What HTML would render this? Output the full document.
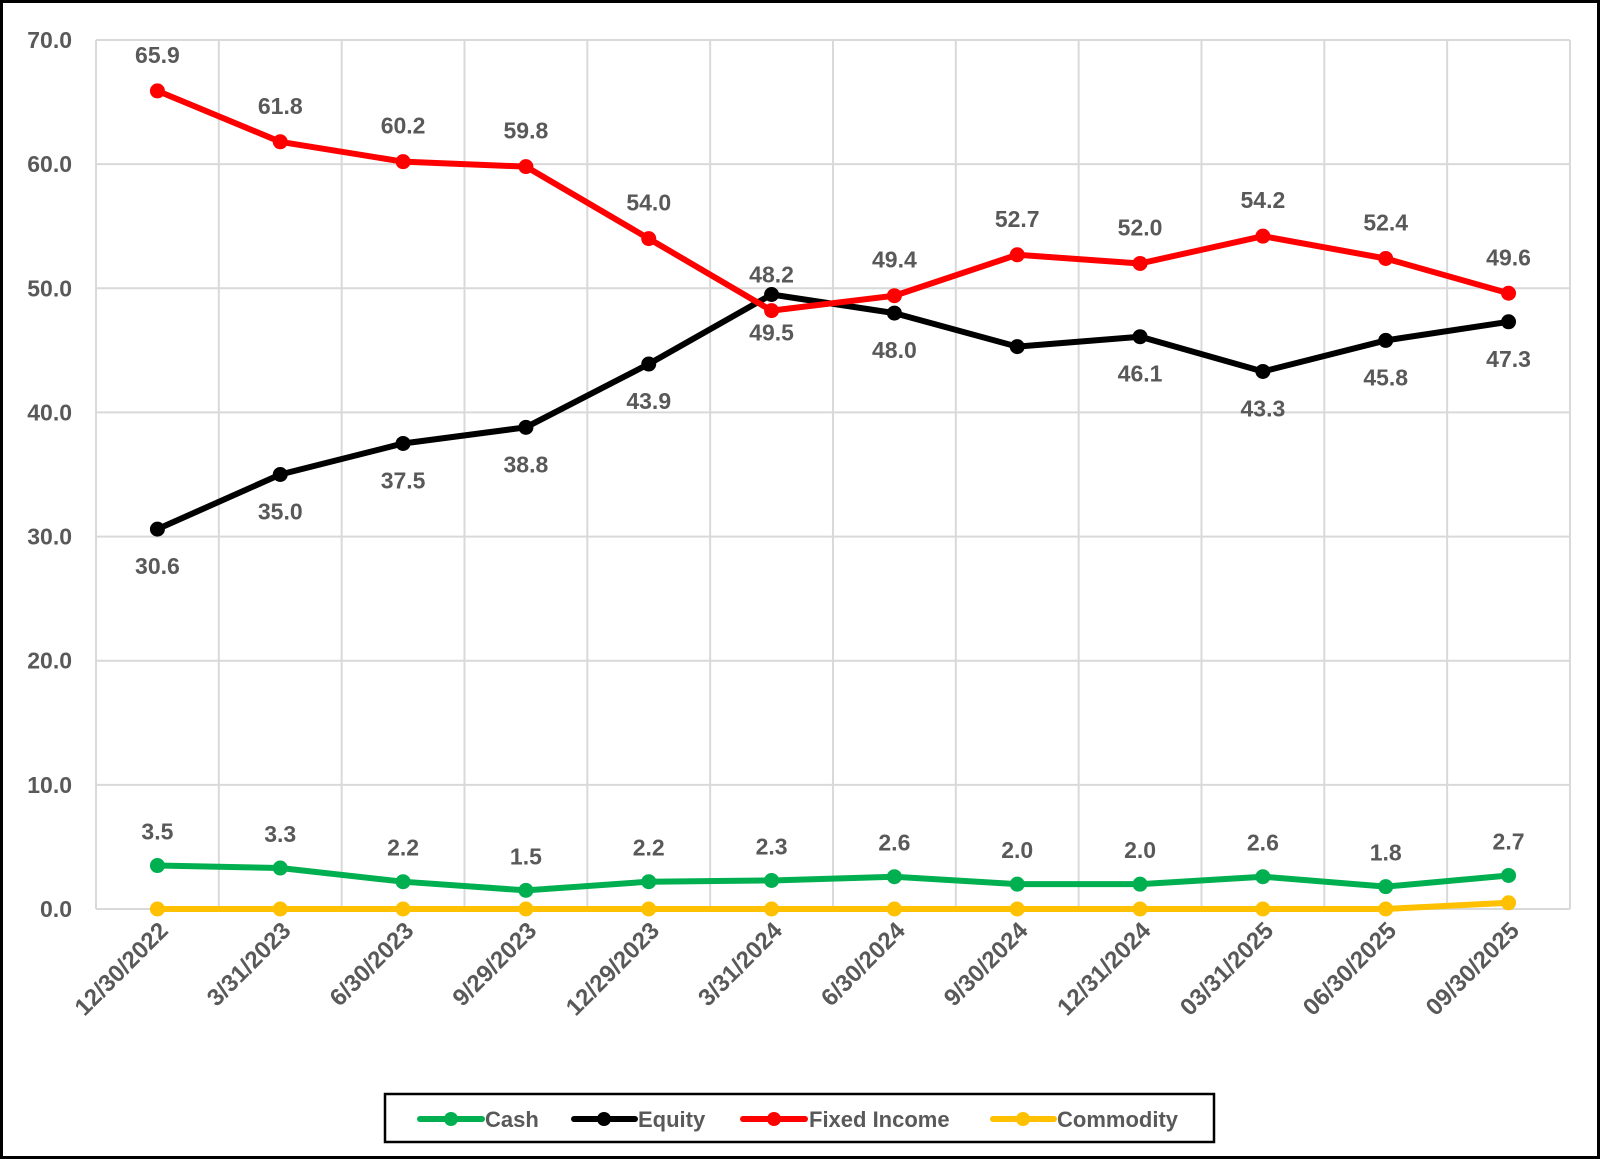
<!DOCTYPE html>
<html><head><meta charset="utf-8"><style>
html,body{margin:0;padding:0;background:#fff}
svg{display:block}
text{font-family:"Liberation Sans",Arial,sans-serif;fill:#595959}
</style></head><body>
<svg width="1600" height="1159" viewBox="0 0 1600 1159" xmlns="http://www.w3.org/2000/svg">
<rect x="1.5" y="1.5" width="1597" height="1156" fill="#fff" stroke="#000" stroke-width="3"/>
<g id="grid" stroke="#d9d9d9" stroke-width="2"></g>
<g id="ylab" font-size="23" font-weight="bold" text-anchor="end"></g>
<g id="xlab" font-size="24" font-weight="bold" text-anchor="end"></g>
<g id="series"></g>
<g id="labels" font-size="23" font-weight="bold" text-anchor="middle"></g>
<rect x="385" y="1094" width="829" height="48" fill="#fff" stroke="#000" stroke-width="2.5"/>
<g stroke-width="6" stroke-linecap="round">
<line x1="420" y1="1119" x2="482" y2="1119" stroke="#00b050"/><circle cx="451" cy="1119" r="7" fill="#00b050"/>
<line x1="574" y1="1119" x2="635" y2="1119" stroke="#000"/><circle cx="604" cy="1119" r="7" fill="#000"/>
<line x1="743" y1="1119" x2="805" y2="1119" stroke="#ff0000"/><circle cx="774" cy="1119" r="7" fill="#ff0000"/>
<line x1="993" y1="1119" x2="1054" y2="1119" stroke="#ffc000"/><circle cx="1023" cy="1119" r="7" fill="#ffc000"/>
</g>
<g font-size="22" font-weight="bold">
<text x="485" y="1127">Cash</text>
<text x="638" y="1127">Equity</text>
<text x="809" y="1127">Fixed Income</text>
<text x="1057" y="1127">Commodity</text>
</g>
</svg>
<script>
const NS="http://www.w3.org/2000/svg";
const x0=96,step=122.83,y0=909,k=869/70;
const X=i=>x0+step/2+i*step, Y=v=>y0-v*k;
function el(p,t,a,txt){const e=document.createElementNS(NS,t);for(const n in a)e.setAttribute(n,a[n]);if(txt!=null)e.textContent=txt;document.getElementById(p).appendChild(e);}
for(let i=0;i<=12;i++)el("grid","line",{x1:x0+i*step,x2:x0+i*step,y1:Y(70),y2:y0});
for(let v=0;v<=70;v+=10){el("grid","line",{x1:x0,x2:x0+12*step,y1:Y(v),y2:Y(v)});el("ylab","text",{x:72,y:Y(v)+8},v.toFixed(1));}
const dates=["12/30/2022","3/31/2023","6/30/2023","9/29/2023","12/29/2023","3/31/2024","6/30/2024","9/30/2024","12/31/2024","03/31/2025","06/30/2025","09/30/2025"];
dates.forEach((d,i)=>{const x=X(i)+12,y=932;el("xlab","text",{x:x,y:y,transform:`rotate(-45 ${x} ${y})`},d);});
const S=[
 {c:"#ffc000",v:[0,0,0,0,0,0,0,0,0,0,0,0.5],l:null},
 {c:"#00b050",v:[3.5,3.3,2.2,1.5,2.2,2.3,2.6,2.0,2.0,2.6,1.8,2.7],l:i=>[-34,null]},
 {c:"#000",v:[30.6,35.0,37.5,38.8,43.9,49.5,48.0,45.3,46.1,43.3,45.8,47.3],l:i=>i==5?[-20,"48.2"]:i==7?null:[37,null]},
 {c:"#ff0000",v:[65.9,61.8,60.2,59.8,54.0,48.2,49.4,52.7,52.0,54.2,52.4,49.6],l:i=>i==5?[22,"49.5"]:[-36,null]}
];
S.forEach(s=>{
 el("series","polyline",{points:s.v.map((v,i)=>X(i)+","+Y(v)).join(" "),fill:"none",stroke:s.c,"stroke-width":6,"stroke-linejoin":"round"});
 s.v.forEach((v,i)=>{el("series","circle",{cx:X(i),cy:Y(v),r:7.5,fill:s.c});
  if(s.l){const r=s.l(i);if(r)el("labels","text",{x:X(i),y:Y(v)+r[0]+8},r[1]||v.toFixed(1));}
 });
});
</script>
</body></html>
